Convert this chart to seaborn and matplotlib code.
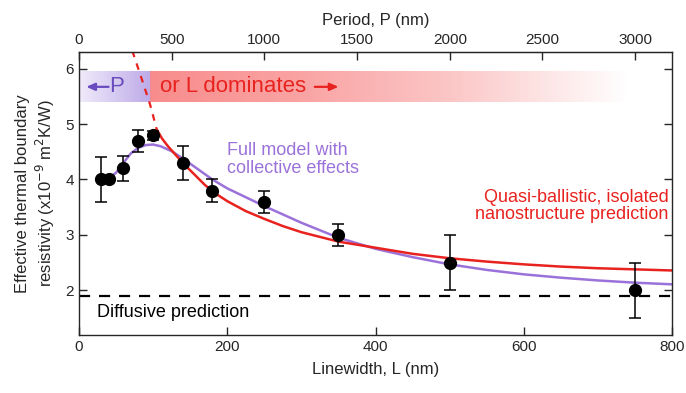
import numpy as np
import matplotlib
matplotlib.use("Agg")
import matplotlib.pyplot as plt
import seaborn as sns

# measured points
L_data = [30, 40, 60, 80, 100, 140, 180, 250, 350, 500, 750]
R_data = [4.0, 4.0, 4.2, 4.7, 4.8, 4.3, 3.8, 3.6, 3.0, 2.5, 2.0]
R_err = [0.4, 0.05, 0.22, 0.2, 0.08, 0.31, 0.21, 0.2, 0.2, 0.5, 0.5]

# full model with collective effects
L_full = [32, 40, 50, 60, 70, 80, 90, 100, 110, 125, 140, 160, 180, 200, 225, 250, 275, 300, 350, 400, 450, 500, 550, 600, 650, 700, 750, 800]
R_full = [3.98, 4.02, 4.12, 4.3, 4.47, 4.57, 4.62, 4.63, 4.6, 4.51, 4.38, 4.19, 4.0, 3.84, 3.68, 3.52, 3.37, 3.22, 2.95, 2.75, 2.6, 2.47, 2.37, 2.29, 2.23, 2.18, 2.14, 2.11]

# quasi-ballistic prediction (dashed part, then solid part)
L_qb_dash = [72, 80, 88, 96, 105]
R_qb_dash = [6.32, 6.0, 5.68, 5.35, 4.9]
L_qb = [105, 112, 120, 130, 140, 155, 170, 185, 200, 225, 250, 275, 300, 350, 400, 450, 500, 550, 600, 650, 700, 750, 800]
R_qb = [4.9, 4.74, 4.6, 4.45, 4.3, 4.1, 3.9, 3.74, 3.61, 3.43, 3.29, 3.16, 3.05, 2.88, 2.77, 2.66, 2.58, 2.52, 2.47, 2.43, 2.4, 2.38, 2.36]

diffusive = 1.9

sns.set_style("ticks")
plt.rcParams['font.family'] = ['Liberation Sans', 'DejaVu Sans']

fig = plt.figure(figsize=(6.86, 3.93), dpi=100)
ax = fig.add_axes([0.115, 0.148, 0.865, 0.72])

purple = '#9b72d9'
red = '#e8231f'

# shaded band
xs = np.linspace(0, 800, 801)
img = np.ones((1, len(xs), 4))
split = 96
for i, x in enumerate(xs):
    if x < split:
        f = x / split
        c1 = np.array([0.94, 0.92, 0.98])
        c2 = np.array([0.74, 0.67, 0.91])
        img[0, i, :3] = c1 + (c2 - c1) * f
        img[0, i, 3] = 1.0
    else:
        a = np.interp(x, [split, 300, 500, 740], [0.6, 0.48, 0.3, 0.0])
        img[0, i, :3] = [0.96, 0.25, 0.25]
        img[0, i, 3] = a
ax.imshow(img, extent=[0, 800, 5.4, 5.95], aspect='auto', zorder=0, interpolation='bilinear')

ax.axhline(diffusive, color='black', lw=1.6, ls=(0, (5, 4)), zorder=1)

sns.lineplot(x=L_full, y=R_full, ax=ax, color=purple, lw=1.8, sort=False, zorder=2)
sns.lineplot(x=L_qb, y=R_qb, ax=ax, color=red, lw=1.8, sort=False, zorder=2)
sns.lineplot(x=L_qb_dash, y=R_qb_dash, ax=ax, color=red, lw=1.6, sort=False, zorder=2, linestyle=(0, (3, 3)))

ax.errorbar(L_data, R_data, yerr=R_err, fmt='o', color='black', ms=8.5,
            ecolor='black', elinewidth=1.1, capsize=4, capthick=1.1, zorder=3)

ax.set_xlim(0, 800)
ax.set_ylim(1.2, 6.3)
ax.set_xticks([0, 200, 400, 600, 800])
ax.set_yticks([2, 3, 4, 5, 6])
ax.tick_params(direction='in', length=6, width=1, labelsize=11, right=True)
for s in ax.spines.values():
    s.set_linewidth(1.0)
ax.set_xlabel('Linewidth, L (nm)', fontsize=12, labelpad=6)
ax.set_ylabel('Effective thermal boundary\nresistivity (x10$^{-9}$ m$^{2}$K/W)', fontsize=12, labelpad=6)

top = ax.secondary_xaxis('top', functions=(lambda x: x * 4, lambda x: x / 4))
top.set_xticks([0, 500, 1000, 1500, 2000, 2500, 3000])
top.tick_params(direction='in', length=6, width=1, labelsize=11)
top.set_xlabel('Period, P (nm)', fontsize=12, labelpad=6)

# band labels with arrows
arrow_style = '-|>,head_length=0.5,head_width=0.22'
ax.annotate('', xy=(10, 5.67), xytext=(40, 5.67),
            arrowprops=dict(arrowstyle=arrow_style, color='#6a4cc0', lw=1.6, shrinkA=0, shrinkB=0), zorder=4)
ax.text(41, 5.67, 'P', color='#6a4cc0', fontsize=16, va='center', ha='left', zorder=4)
ax.text(110, 5.67, 'or L dominates', color=red, fontsize=16, va='center', ha='left', zorder=4)
ax.annotate('', xy=(350, 5.67), xytext=(318, 5.67),
            arrowprops=dict(arrowstyle=arrow_style, color=red, lw=1.6, shrinkA=0, shrinkB=0), zorder=4)

ax.text(200, 4.36, 'Full model with\ncollective effects', color=purple, fontsize=13,
        va='center', ha='left', linespacing=1.05)
ax.text(795, 3.52, 'Quasi-ballistic, isolated\nnanostructure prediction', color=red, fontsize=13,
        va='center', ha='right', linespacing=1.05)
ax.text(24, 1.6, 'Diffusive prediction', color='black', fontsize=13, va='center', ha='left')

fig.savefig('out.png', dpi=100)
